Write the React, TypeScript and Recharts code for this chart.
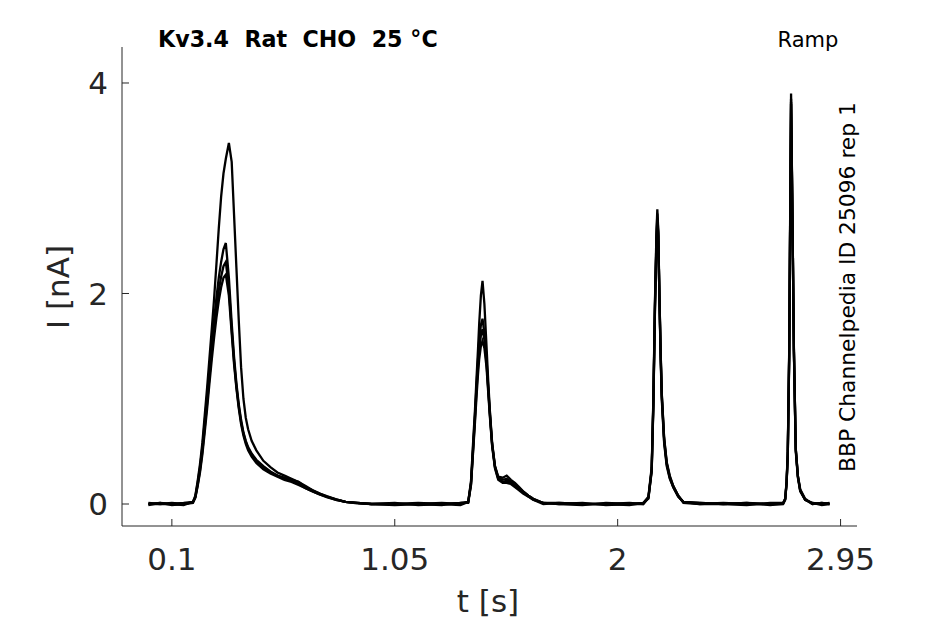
import { LineChart, Line, XAxis, YAxis } from 'recharts'

// time [s], shared by all sweeps
const time = [
  0, 0.05, 0.1, 0.15, 0.19,
  0.2, 0.21, 0.22, 0.23, 0.24, 0.25, 0.26, 0.27, 0.28, 0.29, 0.3, 0.31, 0.32, 0.33, 0.343,
  0.355, 0.365, 0.375, 0.385, 0.395, 0.405, 0.415, 0.425, 0.44, 0.46, 0.49, 0.52, 0.55, 0.58, 0.61,
  0.64, 0.67, 0.7, 0.73, 0.76, 0.8, 0.84, 0.89, 0.95,
  1.05, 1.15, 1.25, 1.33,
  1.363, 1.375, 1.384, 1.392, 1.399, 1.405, 1.41, 1.417, 1.424, 1.432, 1.441, 1.448, 1.455,
  1.465, 1.477, 1.491, 1.51, 1.527, 1.545, 1.562, 1.58, 1.597, 1.62, 1.64, 1.683,
  1.75, 1.85, 1.95, 2.05, 2.109,
  2.131, 2.145, 2.152, 2.159, 2.165, 2.169, 2.173, 2.178, 2.183, 2.188, 2.198, 2.209, 2.222, 2.237, 2.258, 2.28,
  2.35, 2.45, 2.55, 2.65, 2.705,
  2.714, 2.72, 2.725, 2.731, 2.735, 2.739, 2.742, 2.745, 2.751, 2.759, 2.768, 2.778, 2.799,
  2.83, 2.87, 2.903,
]

// current [nA] per sweep
const sweep1 = [
  0, 0.01, -0.01, 0, 0.02,
  0.08, 0.22, 0.38, 0.58, 0.84, 1.1, 1.38, 1.66, 1.95, 2.28, 2.62, 2.92, 3.14, 3.28, 3.43,
  3.25, 2.75, 2.25, 1.75, 1.3, 1.0, 0.82, 0.71, 0.6, 0.51, 0.41, 0.35, 0.3, 0.27, 0.24,
  0.21, 0.17, 0.13, 0.1, 0.07, 0.045, 0.02, 0.01, 0,
  0.01, -0.01, 0, 0.01,
  0.02, 0.22, 0.59, 0.9, 1.22, 1.48, 1.72, 1.98, 2.12, 1.9, 1.5, 1.18, 0.9,
  0.58, 0.36, 0.26, 0.25, 0.27, 0.23, 0.2, 0.16, 0.12, 0.08, 0.05, 0.01,
  0, 0.01, -0.01, 0, 0.01,
  0.07, 0.35, 0.99, 1.94, 2.55, 2.8, 2.6, 1.94, 1.4, 0.99, 0.58, 0.36, 0.24, 0.16, 0.07, 0.02,
  0.01, 0, -0.01, 0.01, 0.01,
  0.05, 0.22, 0.5, 1.45, 2.71, 3.9, 3.3, 2.71, 1.45, 0.5, 0.25, 0.12, 0.04,
  0.01, 0, 0.01,
]

const sweep2 = [
  0.01, 0, 0, -0.01, 0.02,
  0.07, 0.2, 0.35, 0.54, 0.78, 1.02, 1.28, 1.52, 1.75, 1.96, 2.15, 2.3, 2.42, 2.48, 2.15,
  1.72, 1.4, 1.15, 0.95, 0.8, 0.68, 0.6, 0.54, 0.48, 0.42, 0.36, 0.31, 0.27, 0.25, 0.23,
  0.21, 0.16, 0.13, 0.1, 0.075, 0.045, 0.02, 0.01, 0,
  0, 0.01, 0, -0.01,
  0.02, 0.2, 0.55, 0.85, 1.15, 1.38, 1.56, 1.7, 1.76, 1.62, 1.38, 1.12, 0.88,
  0.57, 0.36, 0.25, 0.23, 0.24, 0.21, 0.18, 0.15, 0.12, 0.08, 0.05, 0.01,
  0.01, 0, 0, 0.01, 0,
  0.06, 0.33, 0.96, 1.9, 2.5, 2.76, 2.58, 1.98, 1.45, 1.04, 0.62, 0.39, 0.26, 0.17, 0.08, 0.02,
  0, 0.01, 0, 0, 0.01,
  0.05, 0.21, 0.48, 1.42, 2.66, 3.85, 3.28, 2.72, 1.48, 0.52, 0.26, 0.13, 0.04,
  0, 0.01, 0,
]

const sweep3 = [
  0, 0, 0.01, 0, 0.01,
  0.06, 0.18, 0.32, 0.5, 0.72, 0.95, 1.2, 1.44, 1.66, 1.86, 2.03, 2.16, 2.26, 2.3, 2.05,
  1.66, 1.36, 1.12, 0.93, 0.78, 0.67, 0.59, 0.53, 0.47, 0.41, 0.35, 0.3, 0.27, 0.24, 0.22,
  0.19, 0.15, 0.12, 0.09, 0.07, 0.04, 0.02, 0.01, 0,
  -0.01, 0, 0.01, 0,
  0.02, 0.19, 0.52, 0.82, 1.1, 1.31, 1.47, 1.6, 1.66, 1.56, 1.34, 1.1, 0.86,
  0.56, 0.35, 0.24, 0.21, 0.22, 0.2, 0.17, 0.14, 0.11, 0.07, 0.04, 0.01,
  0, -0.01, 0.01, 0, 0,
  0.06, 0.32, 0.94, 1.87, 2.46, 2.72, 2.55, 1.96, 1.43, 1.02, 0.6, 0.38, 0.25, 0.16, 0.07, 0.02,
  0.01, 0, 0.01, -0.01, 0,
  0.04, 0.2, 0.47, 1.4, 2.62, 3.82, 3.25, 2.7, 1.47, 0.52, 0.27, 0.13, 0.04,
  0.01, -0.01, 0,
]

const sweep4 = [
  -0.01, 0.01, 0, 0.01, 0.02,
  0.06, 0.17, 0.3, 0.47, 0.68, 0.9, 1.14, 1.37, 1.58, 1.77, 1.93, 2.06, 2.15, 2.18, 1.98,
  1.62, 1.33, 1.1, 0.91, 0.76, 0.65, 0.57, 0.51, 0.45, 0.39, 0.33, 0.29, 0.26, 0.23, 0.21,
  0.18, 0.15, 0.12, 0.09, 0.065, 0.04, 0.02, 0.005, 0,
  0, 0, -0.01, 0.01,
  0.01, 0.18, 0.5, 0.78, 1.04, 1.24, 1.38, 1.5, 1.55, 1.48, 1.3, 1.07, 0.84,
  0.55, 0.34, 0.23, 0.2, 0.2, 0.19, 0.16, 0.13, 0.1, 0.07, 0.04, 0,
  0.01, 0, 0, -0.01, 0.01,
  0.05, 0.31, 0.92, 1.85, 2.44, 2.7, 2.54, 1.97, 1.46, 1.05, 0.63, 0.4, 0.27, 0.17, 0.08, 0.01,
  0, 0, 0.01, 0, 0,
  0.04, 0.2, 0.46, 1.38, 2.6, 3.8, 3.24, 2.7, 1.48, 0.53, 0.27, 0.14, 0.05,
  0, 0.01, 0,
]

const xTicks = [0.1, 1.05, 2, 2.95]
const yTicks = [0, 2, 4]
const sweepKeys = ['s1', 's2', 's3', 's4']

const rows = time.map((t, i) => ({
  t,
  s1: sweep1[i],
  s2: sweep2[i],
  s3: sweep3[i],
  s4: sweep4[i],
}))

const ink = '#262626'
const font = '"DejaVu Sans", sans-serif'

export default function App() {
  return (
    <div style={{ position: 'absolute', left: 0, top: 0, width: 945, height: 624, background: '#fff' }}>
      <LineChart width={945} height={624} data={rows} margin={{ top: 47, right: 88, bottom: 38, left: 0 }}>
        <XAxis
          dataKey="t"
          type="number"
          domain={[-0.1125, 3.02]}
          ticks={xTicks}
          allowDataOverflow
          height={60}
          stroke={ink}
          tickSize={-7}
          tickMargin={29}
          tick={{ fill: ink, fontSize: 31, fontFamily: font }}
        />
        <YAxis
          type="number"
          domain={[-0.209, 4.342]}
          ticks={yTicks}
          allowDataOverflow
          width={122}
          stroke={ink}
          tickSize={-7}
          tickMargin={21}
          tick={{ fill: ink, fontSize: 31, fontFamily: font }}
        />
        {sweepKeys.map((k) => (
          <Line
            key={k}
            dataKey={k}
            type="linear"
            stroke="#000"
            strokeWidth={2.3}
            dot={false}
            isAnimationActive={false}
          />
        ))}
        <text x={158} y={47} fontFamily={font} fontSize={22.2} fontWeight="bold" fill="#000" style={{ whiteSpace: 'pre' }}>
          {'Kv3.4  Rat  CHO  25 °C'}
        </text>
        <text x={808} y={47} textAnchor="middle" fontFamily={font} fontSize={21} fill="#000">
          Ramp
        </text>
        <text
          x={855}
          y={287}
          textAnchor="middle"
          fontFamily={font}
          fontSize={21.8}
          fill="#000"
          transform="rotate(-90 855 287)"
        >
          BBP Channelpedia ID 25096 rep 1
        </text>
        <text x={488} y={612} textAnchor="middle" fontFamily={font} fontSize={31} fill={ink}>
          t [s]
        </text>
        <text x={69} y={287} textAnchor="middle" fontFamily={font} fontSize={31} fill={ink} transform="rotate(-90 69 287)">
          I [nA]
        </text>
      </LineChart>
    </div>
  )
}
